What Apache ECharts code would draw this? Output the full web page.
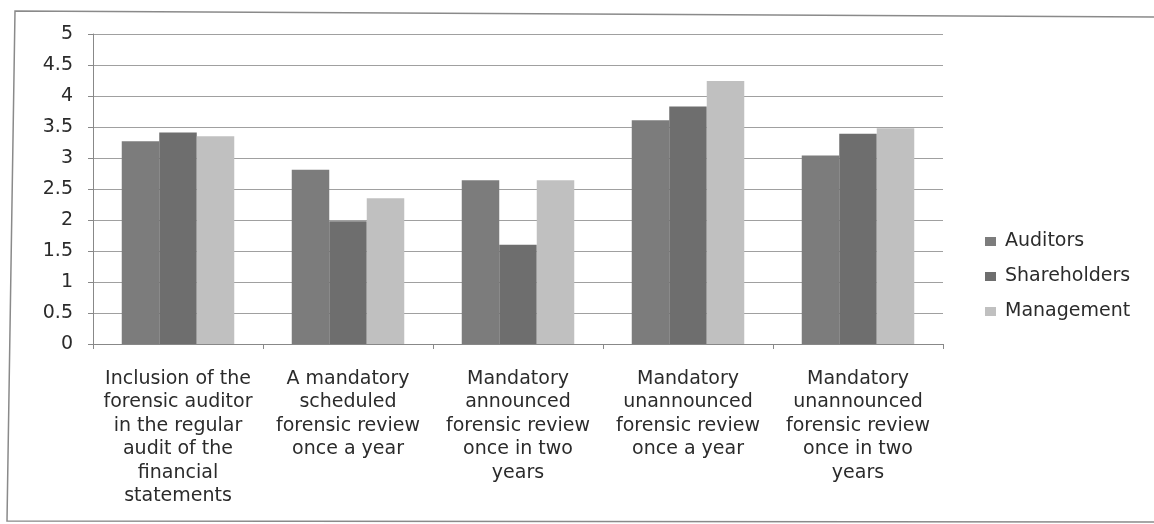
<!DOCTYPE html>
<html>
<head>
<meta charset="utf-8">
<script src="https://cdn.jsdelivr.net/npm/echarts@6/dist/echarts.min.js"></script>
<style>
  html, body { margin: 0; padding: 0; background: #fff; }
  #chart { width: 1154px; height: 524px; }
</style>
</head>
<body>
<div id="chart"></div>
<script>
// Survey categories (x axis), with the original line breaks
const categories = [
  'Inclusion of the\nforensic auditor\nin the regular\naudit of the\nfinancial\nstatements',
  'A mandatory\nscheduled\nforensic review\nonce a year',
  'Mandatory\nannounced\nforensic review\nonce in two\nyears',
  'Mandatory\nunannounced\nforensic review\nonce a year',
  'Mandatory\nunannounced\nforensic review\nonce in two\nyears'
];

// Mean scores per respondent group
const auditors     = [3.27, 2.81, 2.64, 3.61, 3.04];
const shareholders = [3.41, 1.98, 1.60, 3.83, 3.39];
const management   = [3.35, 2.35, 2.64, 4.24, 3.48];

const seriesNames = ['Auditors', 'Shareholders', 'Management'];
const yTicks = { min: 0, max: 5, interval: 0.5 };

const FONT = '"DejaVu Sans", Verdana, sans-serif';
const TEXT = '#2b2b2b';
const chart = echarts.init(document.getElementById('chart'), null, { renderer: 'canvas' });

chart.setOption({
  animation: false,
  backgroundColor: '#ffffff',
  color: ['#7c7c7c', '#6e6e6e', '#c0c0c0'],
  textStyle: { fontFamily: FONT },
  graphic: [{
    // outer chart-area frame
    type: 'polygon',
    shape: { points: [[15, 11], [1170, 17], [1170, 522], [7, 521]] },
    style: { fill: 'none', stroke: '#8a8a8a', lineWidth: 1.5 },
    silent: true
  }],
  grid: { left: 93, right: 211, top: 34, bottom: 180, containLabel: false },
  legend: {
    orient: 'vertical',
    left: 985,
    top: 232,
    padding: 0,
    itemWidth: 11,
    itemHeight: 9,
    itemGap: 16,
    icon: 'rect',
    textStyle: { fontSize: 19, color: TEXT, fontFamily: FONT, padding: [0, 0, 0, 4] },
    data: seriesNames
  },
  xAxis: {
    type: 'category',
    data: categories,
    axisLine: { lineStyle: { color: '#888', width: 1 } },
    axisTick: { show: true, alignWithLabel: false, length: 5, lineStyle: { color: '#888' } },
    axisLabel: {
      interval: 0,
      margin: 23,
      fontSize: 19,
      lineHeight: 23.5,
      color: TEXT,
      fontFamily: FONT,
      align: 'center'
    }
  },
  yAxis: {
    type: 'value',
    min: yTicks.min,
    max: yTicks.max,
    interval: yTicks.interval,
    axisLine: { show: true, lineStyle: { color: '#888', width: 1 } },
    axisTick: { show: true, length: 5, lineStyle: { color: '#888' } },
    axisLabel: { fontSize: 19, color: TEXT, margin: 20, fontFamily: FONT },
    splitLine: { lineStyle: { color: '#a0a0a0', width: 1 } }
  },
  series: [
    { name: seriesNames[0], type: 'bar', data: auditors, barWidth: 37.5, barGap: '0%' },
    { name: seriesNames[1], type: 'bar', data: shareholders, barWidth: 37.5, barGap: '0%' },
    { name: seriesNames[2], type: 'bar', data: management, barWidth: 37.5, barGap: '0%' }
  ]
});
</script>
</body>
</html>
